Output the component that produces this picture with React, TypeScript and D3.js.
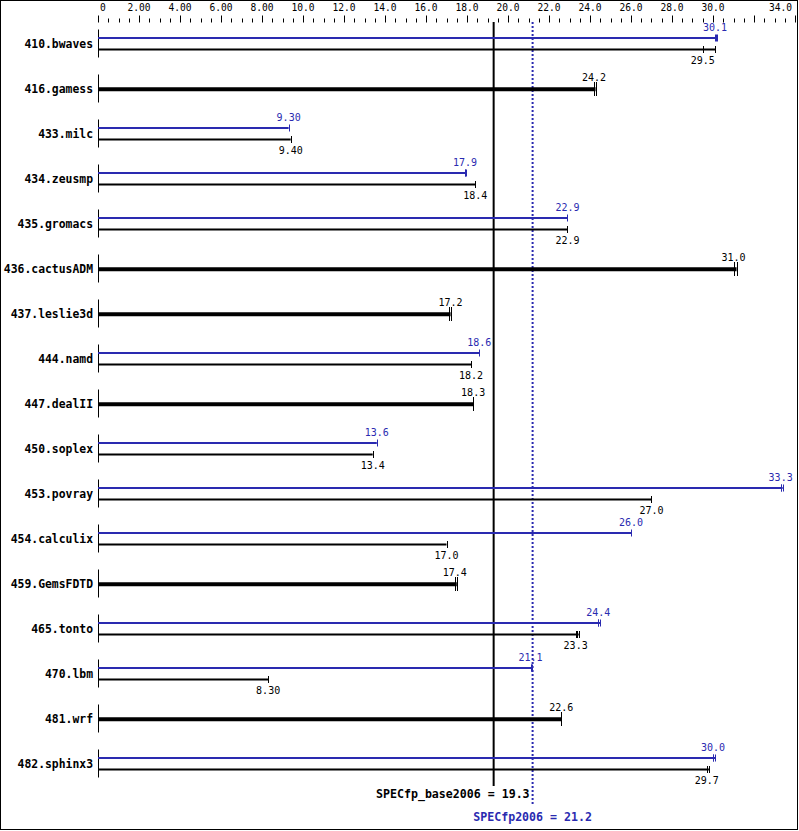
import React from "react";
import * as d3 from "d3";

const benchmarks = [
  "410.bwaves", "416.gamess", "433.milc", "434.zeusmp", "435.gromacs",
  "436.cactusADM", "437.leslie3d", "444.namd", "447.dealII", "450.soplex",
  "453.povray", "454.calculix", "459.GemsFDTD", "465.tonto", "470.lbm",
  "481.wrf", "482.sphinx3",
];
const baseValues = [29.5, 24.2, 9.4, 18.4, 22.9, 31.0, 17.2, 18.2, 18.3, 13.4, 27.0, 17.0, 17.4, 23.3, 8.3, 22.6, 29.7];
const peakValues: (number | null)[] = [30.1, null, 9.3, 17.9, 22.9, null, null, 18.6, null, 13.6, 33.3, 26.0, null, 24.4, 21.1, null, 30.0];
const baseRuns: number[][] = [
  [29.5, 29.5, 30.1], [24.2, 24.2, 24.27], [9.4], [18.4], [22.9],
  [31.0, 31.0, 31.15], [17.1, 17.2, 17.2], [18.2], [18.3], [13.4],
  [27.0], [17.0], [17.4, 17.4, 17.5], [23.3, 23.35, 23.45], [8.3],
  [22.6], [29.7, 29.7, 29.8],
];
const peakRuns: (number[] | null)[] = [
  [30.1, 30.15, 30.2], null, [9.3], [17.9, 17.9, 17.97], [22.9],
  null, null, [18.6], null, [13.6],
  [33.3, 33.3, 33.4], [26.0], null, [24.4, 24.4, 24.5], [21.1, 21.1, 21.18],
  null, [30.0, 30.0, 30.1],
];
const tickValues = d3.range(0, 34.01, 0.5);
const labeledTicks = [0, 2, 4, 6, 8, 10, 12, 14, 16, 18, 20, 22, 24, 26, 28, 30, 34];
const baseMean = 19.3;
const peakMean = 21.2;

const BLUE = "#2a2ab0";
const MONO = "'DejaVu Sans Mono', 'Liberation Mono', monospace";

const fmt = (v: number) => (v === 0 ? "0" : v < 10 ? v.toFixed(2) : v.toFixed(1));

export default function App() {
  const W = 799, H = 831;
  const x = d3.scaleLinear().domain([0, 34]).range([98, 795]);
  const y = d3.scalePoint<string>().domain(benchmarks).range([43.5, 763.5]);
  const x0 = x(0);

  return (
    <svg width={W} height={H} style={{ position: "fixed", left: 0, top: 0, background: "#fff" }}
      fontFamily={MONO}>
      <rect x={0.5} y={0.5} width={797} height={829} fill="#fff" stroke="#000" strokeWidth={1} />
      {/* top axis */}
      {tickValues.map((t) => {
        const major = Math.abs(t % 2) < 1e-9;
        const xx = Math.round(x(t)) + 0.5;
        return <line key={"t" + t} x1={xx} x2={xx} y1={major ? 15.5 : 18.5} y2={22.5} stroke="#000" strokeWidth={1} />;
      })}
      {labeledTicks.map((t, i) => (
        <text key={"l" + t} x={i === 0 ? x(t) + 2 : i === labeledTicks.length - 1 ? x(t) - 3 : x(t)} y={11}
          fontSize={9.6} textAnchor={i === 0 ? "start" : i === labeledTicks.length - 1 ? "end" : "middle"} fill="#000">
          {fmt(t)}
        </text>
      ))}

      {/* reference lines */}
      <line x1={x(baseMean)} x2={x(baseMean)} y1={22} y2={786} stroke="#000" strokeWidth={2} />
      <line x1={x(peakMean)} x2={x(peakMean)} y1={22} y2={806} stroke={BLUE} strokeWidth={2} strokeDasharray="2,2" />

      {benchmarks.map((b, i) => {
        const c = y(b)!;
        const pv = peakValues[i];
        const pr = peakRuns[i];
        const bv = baseValues[i];
        const br = baseRuns[i];
        const single = pv === null;
        const xLab = 93;
        const els: React.ReactNode[] = [];
        els.push(<text key="n" x={xLab} y={c + 4} textAnchor="end" fontSize={11.4} fontWeight="bold" fill="#000">{b}</text>);
        els.push(<line key="v" x1={x0 + 0.5} x2={x0 + 0.5} y1={c - 14} y2={c + 14} stroke="#000" strokeWidth={1} />);
        if (single) {
          const yy = c + 0.8;
          const mx = d3.max(br)!;
          els.push(<line key="bl" x1={x0} x2={x(mx)} y1={yy} y2={yy} stroke="#000" strokeWidth={4} />);
          br.forEach((r, k) => {
            const xx = Math.round(x(r)) + 0.5;
            els.push(<line key={"bt" + k} x1={xx} x2={xx} y1={c - 6.5} y2={c + 7.5} stroke="#000" strokeWidth={1} />);
          });
          els.push(<text key="bv" x={x(bv)} y={c - 8} textAnchor="middle" fontSize={10} fill="#000">{fmt(bv)}</text>);
        } else {
          const yp = c - 5.5;
          const yb = c + 6;
          const mp = d3.max(pr!)!;
          const mb = d3.max(br)!;
          els.push(<line key="pl" x1={x0} x2={x(mp)} y1={yp} y2={yp} stroke={BLUE} strokeWidth={2} />);
          pr!.forEach((r, k) => {
            const xx = Math.round(x(r)) + 0.5;
            els.push(<line key={"pt" + k} x1={xx} x2={xx} y1={yp - 3.5} y2={yp + 3.5} stroke={BLUE} strokeWidth={1} />);
          });
          els.push(<text key="pv" x={x(pv!)} y={c - 12.5} textAnchor="middle" fontSize={10} fill={BLUE}>{fmt(pv!)}</text>);
          els.push(<line key="bl" x1={x0} x2={x(mb)} y1={yb} y2={yb} stroke="#000" strokeWidth={2} />);
          br.forEach((r, k) => {
            const xx = Math.round(x(r)) + 0.5;
            els.push(<line key={"bt" + k} x1={xx} x2={xx} y1={yb - 3.5} y2={yb + 3.5} stroke="#000" strokeWidth={1} />);
          });
          els.push(<text key="bv" x={x(bv)} y={c + 20.5} textAnchor="middle" fontSize={10} fill="#000">{fmt(bv)}</text>);
        }
        return <g key={b}>{els}</g>;
      })}

      <text x={x(peakMean) - 3} y={798} textAnchor="end" fontSize={11.6} fontWeight="bold" fill="#000">
        {`SPECfp_base2006 = ${baseMean.toFixed(1)}`}
      </text>
      <text x={x(peakMean)} y={820.5} textAnchor="middle" fontSize={11.6} fontWeight="bold" fill={BLUE}>
        {`SPECfp2006 = ${peakMean.toFixed(1)}`}
      </text>
    </svg>
  );
}
